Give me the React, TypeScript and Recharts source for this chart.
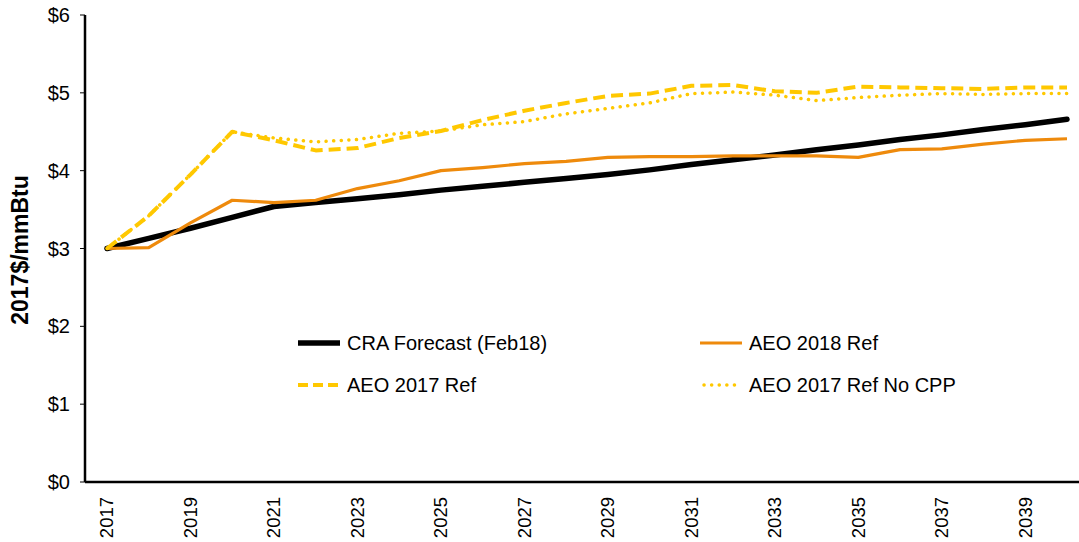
import React from "react"
import { Line, LineChart, XAxis, YAxis } from "recharts"

const years = [2017, 2018, 2019, 2020, 2021, 2022, 2023, 2024, 2025, 2026, 2027, 2028,
  2029, 2030, 2031, 2032, 2033, 2034, 2035, 2036, 2037, 2038, 2039, 2040]

const craForecast = [3.0, 3.13, 3.26, 3.4, 3.54, 3.59, 3.64, 3.69, 3.75, 3.8, 3.85, 3.9,
  3.95, 4.01, 4.08, 4.14, 4.2, 4.27, 4.33, 4.4, 4.46, 4.53, 4.59, 4.66]
const aeo2018Ref = [3.0, 3.01, 3.33, 3.62, 3.59, 3.62, 3.77, 3.87, 4.0, 4.04, 4.09, 4.12,
  4.17, 4.18, 4.18, 4.19, 4.19, 4.19, 4.17, 4.27, 4.28, 4.34, 4.39, 4.41]
const aeo2017Ref = [3.0, 3.42, 3.95, 4.5, 4.39, 4.26, 4.29, 4.42, 4.51, 4.65, 4.77, 4.87,
  4.96, 4.99, 5.09, 5.1, 5.02, 5.0, 5.08, 5.07, 5.06, 5.05, 5.07, 5.07]
const aeo2017NoCpp = [3.0, 3.42, 3.95, 4.5, 4.42, 4.37, 4.4, 4.48, 4.51, 4.59, 4.63, 4.73,
  4.8, 4.87, 4.99, 5.01, 4.97, 4.9, 4.94, 4.97, 4.99, 4.98, 4.99, 4.99]

const xTicks = [2017, 2019, 2021, 2023, 2025, 2027, 2029, 2031, 2033, 2035, 2037, 2039]
const yTicks = [0, 1, 2, 3, 4, 5, 6]

const data = years.map((year, i) => ({
  year,
  cra: craForecast[i],
  aeo18: aeo2018Ref[i],
  aeo17: aeo2017Ref[i],
  nocpp: aeo2017NoCpp[i],
}))

const FONT = "'Liberation Sans', Arial, sans-serif"
const ORANGE = "#EE8A0C"
const YELLOW = "#FFC800"

const series = [
  { key: "cra", name: "CRA Forecast (Feb18)", color: "#000000", width: 5.5, dash: undefined, cap: "round" },
  { key: "aeo18", name: "AEO 2018 Ref", color: ORANGE, width: 3.2, dash: undefined, cap: "butt" },
  { key: "aeo17", name: "AEO 2017 Ref", color: YELLOW, width: 4, dash: "12 6", cap: "butt" },
  { key: "nocpp", name: "AEO 2017 Ref No CPP", color: YELLOW, width: 3.5, dash: "0.1 7.5", cap: "round" },
]

const YearTick = (props: any) => {
  const { x, y, payload } = props
  const ty = y + 7
  return (
    <text
      x={x}
      y={ty}
      dy="0.35em"
      transform={`rotate(-90 ${x} ${ty})`}
      textAnchor="end"
      fontSize={18.5}
      fontFamily={FONT}
      fill="#000">
      {payload.value}
    </text>
  )
}

const legendSample = (s: any) => (
  <svg width={42} height={10} style={{ display: "block" }}>
    <line
      x1={s.dash === "0.1 7.5" ? 4 : 0}
      y1={5}
      x2={42}
      y2={5}
      stroke={s.color}
      strokeWidth={s.width}
      strokeDasharray={s.dash === "12 6" ? "10 5" : s.dash}
      strokeLinecap={s.cap} />
  </svg>
)

const ChartLegend = () => (
  <div style={{
    position: "absolute", left: 298, top: 331, display: "grid",
    gridTemplateColumns: "402px 320px", rowGap: 18, fontFamily: FONT, fontSize: 20,
  }}>
    {series.map((s) => (
      <div key={s.key} style={{ display: "flex", alignItems: "center", height: 24 }}>
        {legendSample(s)}
        <span style={{ marginLeft: 7, color: "#000" }}>{s.name}</span>
      </div>
    ))}
  </div>
)

const App: React.FC = () => (
  <div style={{ position: "absolute", left: 0, top: 0, width: 1079, height: 542, background: "#fff" }}>
    <LineChart width={1079} height={542} data={data} margin={{ top: 15, right: 0, bottom: 0, left: 0 }}>
      <XAxis
        dataKey="year"
        type="number"
        domain={[2017, 2040]}
        ticks={xTicks}
        interval={0}
        padding={{ left: 22, right: 12 }}
        height={60}
        tickLine={false}
        axisLine={{ stroke: "#000", strokeWidth: 2.5 }}
        tick={<YearTick />} />
      <YAxis
        width={85}
        domain={[0, 6]}
        ticks={yTicks}
        interval={0}
        tickFormatter={(v: number) => `$${v}`}
        tickSize={5}
        tickMargin={10}
        tickLine={{ stroke: "#000", strokeWidth: 1 }}
        axisLine={{ stroke: "#000", strokeWidth: 2.5 }}
        tick={{ fill: "#000", fontSize: 20, fontFamily: FONT }}
        label={{
          content: () => (
            <text
              x={20}
              y={250}
              transform="rotate(-90 20 250)"
              textAnchor="middle"
              dominantBaseline="central"
              fontWeight="bold"
              fontSize={23}
              fontFamily={FONT}
              fill="#000">
              2017$/mmBtu
            </text>
          ),
        }} />
      {series.map((s) => (
        <Line
          key={s.key}
          dataKey={s.key}
          name={s.name}
          type="linear"
          stroke={s.color}
          strokeWidth={s.width}
          strokeDasharray={s.dash}
          strokeLinecap={s.cap as any}
          strokeLinejoin="round"
          dot={false}
          activeDot={false}
          isAnimationActive={false} />
      ))}
    </LineChart>
    <ChartLegend />
  </div>
)

export default App
